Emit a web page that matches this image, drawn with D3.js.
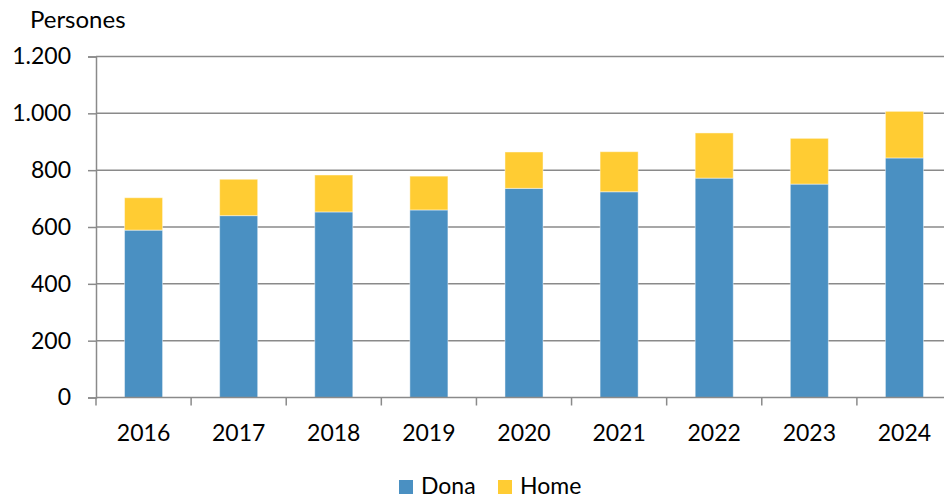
<!DOCTYPE html>
<html><head><meta charset="utf-8">
<script src="https://cdn.jsdelivr.net/npm/d3@7"></script>
<style>
html,body{margin:0;padding:0;background:#fff;}
svg{display:block;font-family:Lato,"Open Sans",sans-serif;}
</style></head>
<body><svg id="c" width="944" height="498"></svg>
<script>
const years = ["2016","2017","2018","2019","2020","2021","2022","2023","2024"];
const dona = [589, 640, 653, 660, 736, 724, 772, 751, 843];
const home = [114, 128, 130, 119, 128, 141, 159, 161, 164];
const yTicks = [0, 200, 400, 600, 800, 1000, 1200];
const seriesNames = ["Dona", "Home"];
const colors = ["#4A90C2", "#FFCC33"];

const svg = d3.select("#c");
const x = d3.scaleBand().domain(years).range([96, 952]).paddingInner(0.6).paddingOuter(0.3);
const y = d3.scaleLinear().domain([0, 1200]).range([397.5, 56.5]);
const fmt = v => d3.format(",")(v).replace(/,/g, ".");

// gridlines
svg.append("g").selectAll("line").data(yTicks.filter(t => t > 0)).join("line")
  .attr("x1", 96).attr("x2", 944)
  .attr("y1", d => y(d)).attr("y2", d => y(d))
  .attr("stroke", "#8a8a8a").attr("stroke-width", 1.5);

// stacked data
const rows = years.map((yr, i) => ({year: yr, Dona: dona[i], Home: home[i]}));
const stack = d3.stack().keys(seriesNames)(rows);
svg.append("g").selectAll("g").data(stack).join("g")
  .attr("fill", (d, i) => colors[i])
  .selectAll("rect").data(d => d).join("rect")
  .attr("x", d => x(d.data.year))
  .attr("width", x.bandwidth())
  .attr("y", d => y(d[1]))
  .attr("height", d => y(d[0]) - y(d[1]))
  .attr("stroke", "rgba(255,255,255,0.45)").attr("stroke-width", 1);

// y axis
const yAxis = svg.append("g").attr("transform", "translate(96,0)")
  .call(d3.axisLeft(y).tickValues(yTicks).tickFormat(fmt).tickSize(8).tickPadding(17));
yAxis.select(".domain").attr("stroke", "#8a8a8a").attr("stroke-width", 1.5);
yAxis.selectAll(".tick line").attr("stroke", "#8a8a8a").attr("stroke-width", 1.5);
yAxis.selectAll("text").attr("font-size", 23).attr("fill", "#000").attr("font-family", "Lato");

// x axis
const xg = svg.append("g").attr("transform", `translate(0,${y(0)})`);
xg.append("line").attr("x1", 96).attr("x2", 944).attr("y1", 0).attr("y2", 0)
  .attr("stroke", "#8a8a8a").attr("stroke-width", 1.5);
const bounds = years.map(yr => x(yr) - x.step() * x.paddingInner() / 2);
xg.selectAll("line.t").data(bounds).join("line").attr("class", "t")
  .attr("x1", d => d).attr("x2", d => d).attr("y1", 0).attr("y2", 8)
  .attr("stroke", "#8a8a8a").attr("stroke-width", 1.5);
xg.selectAll("text").data(years).join("text")
  .attr("x", d => x(d) + x.bandwidth() / 2).attr("y", 43)
  .attr("text-anchor", "middle").attr("font-size", 23).attr("fill", "#000")
  .text(d => d);

// y title
svg.append("text").attr("x", 30).attr("y", 28).attr("font-size", 24).attr("fill", "#000").text("Persones");

// legend
const lx = [399, 498];
const lg = svg.append("g").selectAll("g").data(seriesNames).join("g")
  .attr("transform", (d, i) => `translate(${lx[i]},480)`);
lg.append("rect").attr("width", 14).attr("height", 14).attr("fill", (d, i) => colors[i]);
lg.append("text").attr("x", 22).attr("y", 14).attr("font-size", 23).attr("fill", "#000").text(d => d);
</script></body></html>
